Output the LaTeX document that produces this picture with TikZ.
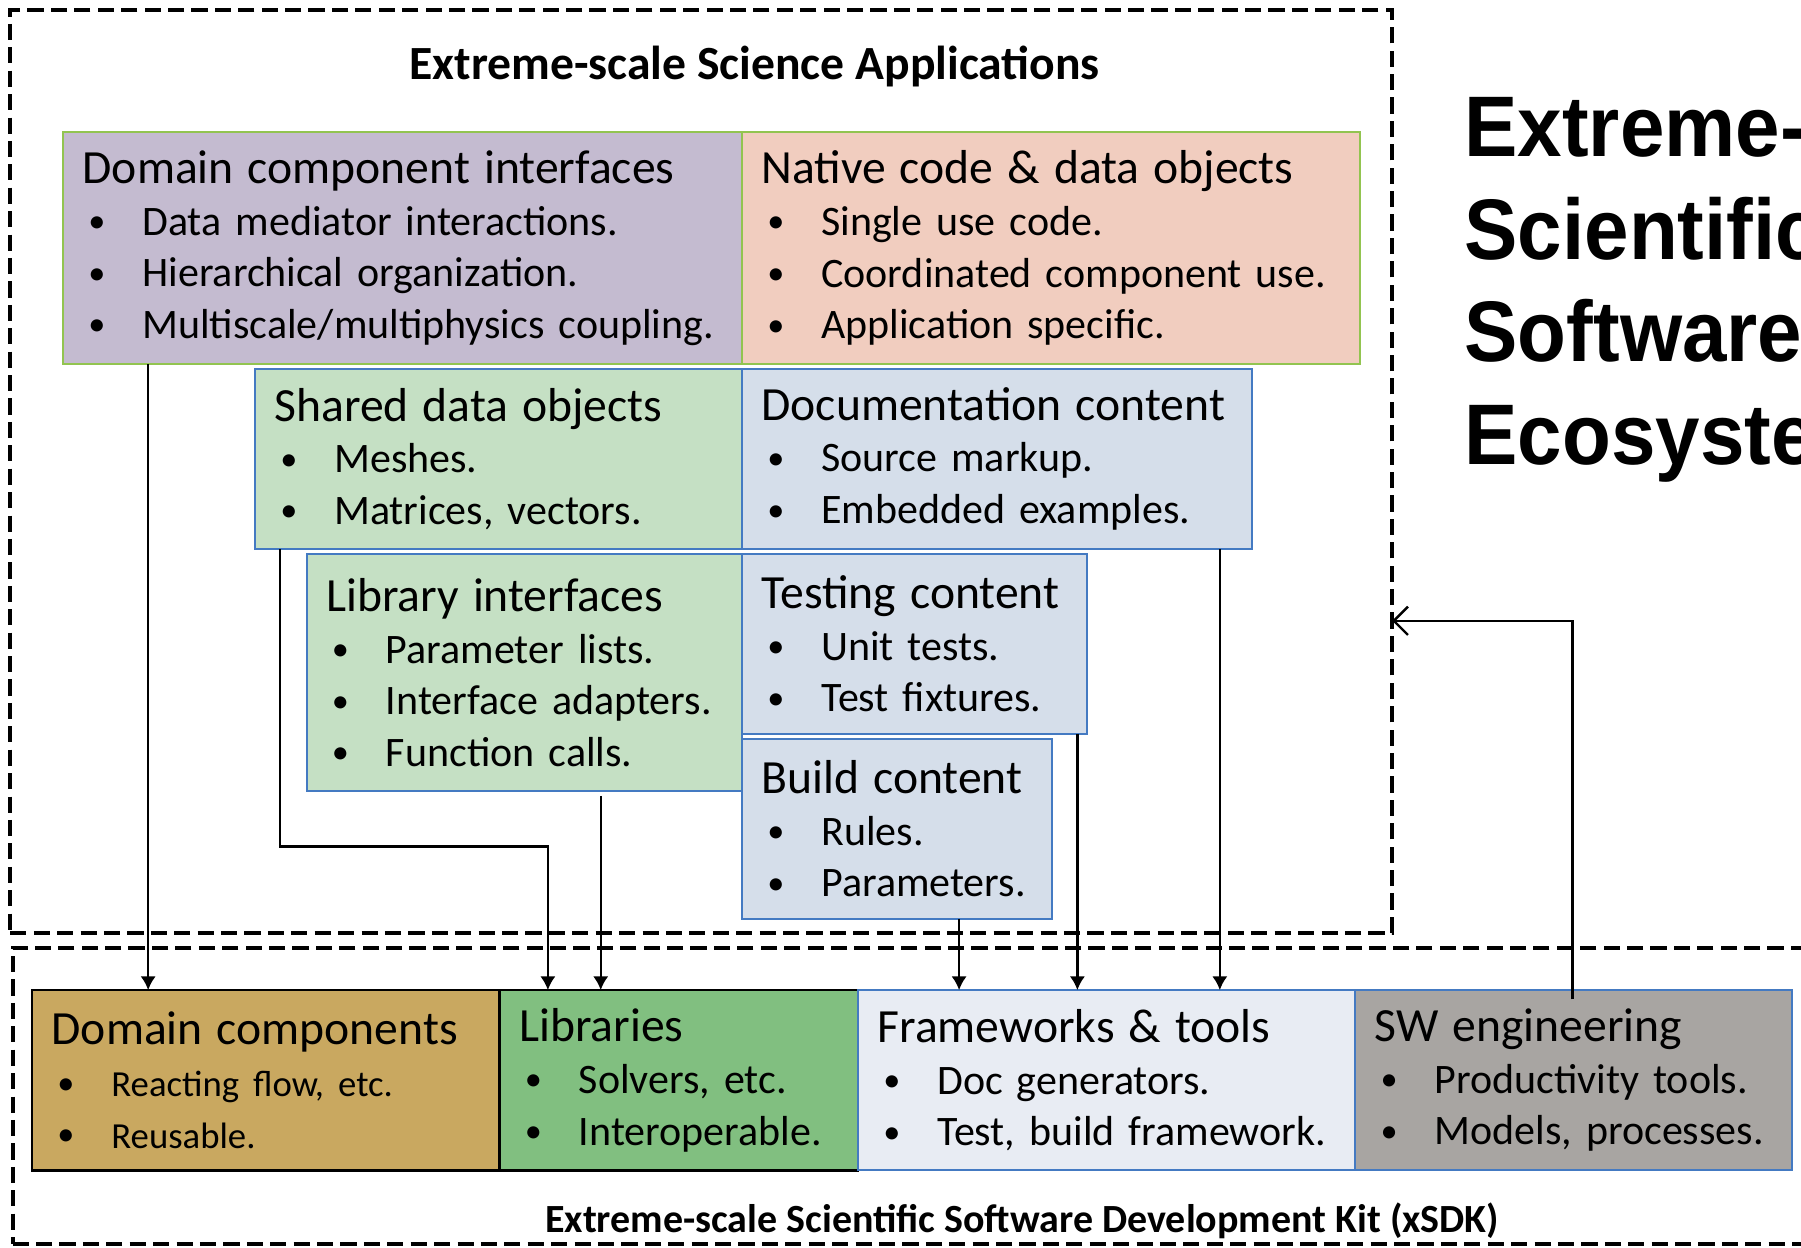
\documentclass[tikz,border=0pt]{standalone}
\usepackage{fontspec}
\setmainfont{Carlito}
\newfontfamily\ecofont[FakeStretch=0.93]{Liberation Sans}
\usetikzlibrary{positioning, arrows.meta}

\definecolor{dcibg}{RGB}{196,187,208}
\definecolor{ncdbg}{RGB}{241,205,191}
\definecolor{libbg}{RGB}{197,224,196}
\definecolor{docbg}{RGB}{213,222,234}
\definecolor{dcbg}{RGB}{201,168,96}
\definecolor{lbsbg}{RGB}{129,191,128}
\definecolor{fwtbg}{RGB}{232,236,243}
\definecolor{swebg}{RGB}{168,165,162}
\definecolor{edgegreen}{RGB}{146,196,80}
\definecolor{edgeblue}{RGB}{68,122,194}

\newcommand{\bhead}[1]{{\fontsize{11.8}{12.8}\selectfont\mbox{#1}}}
\newcommand{\bitem}[1]{\makebox[0.52cm][l]{\hspace{0.05cm}\raisebox{0.6pt}{\fontsize{8.5}{8.5}\selectfont\textbullet}}\mbox{#1}}

\tikzset{
  box/.style={draw, rectangle, anchor=north west, align=left,
    inner xsep=0.17cm, inner ysep=0pt, outer sep=0pt, line width=0.5pt,
    font=\fontsize{10.4}{12.8}\selectfont},
  greenbox/.style={box, draw=edgegreen},
  bluebox/.style={box, draw=edgeblue},
  blackbox/.style={box, draw=black, line width=0.6pt},
  dashbox/.style={draw, dash pattern=on 4pt off 1.8pt, line width=1pt,
    anchor=north west, inner sep=0pt, outer sep=0pt},
  -{Latex[length=3.4pt,width=3.8pt]}, auto
}

\begin{document}
\begin{tikzpicture}[semithick]
  \useasboundingbox (0,0) rectangle (15.68,-10.86);
  \clip (0,0) rectangle (15.68,-10.86);

  % the two groups
  \node[dashbox, minimum width=12.03cm, minimum height=8.03cm] (app) at (0.09,-0.09) {};
  \node[font=\bfseries\fontsize{11.8}{14}\selectfont] (apptitle) at (6.57,-0.58) {Extreme-scale Science Applications};
  \node[dashbox, minimum width=16cm, minimum height=2.58cm] (xsdk) at (0.11,-8.25) {};
  \node[font=\bfseries\fontsize{9.9}{12}\selectfont] (xsdktitle) at (8.90,-10.63) {Extreme-scale Scientific Software Development Kit (xSDK)};

  \node[anchor=north west, inner sep=0pt, align=left,
        font=\ecofont\bfseries\fontsize{21.3}{25.4}\selectfont] (eco) at (12.74,-0.81)
        {Extreme-scale\\Scientific\\Software\\Ecosystem};

  % application side
  \node[greenbox, fill=dcibg, text width=5.57cm, minimum height=2.02cm] (dci) at (0.55,-1.15)
    {\bhead{Domain component interfaces}\\
     \bitem{Data mediator interactions.}\\
     \bitem{Hierarchical organization.}\\
     \bitem{Multiscale/multiphysics coupling.}};
  \node[greenbox, fill=ncdbg, text width=5.04cm, minimum height=2.02cm, right=0pt of dci] (ncd)
    {\bhead{Native code \& data objects}\\
     \bitem{Single use code.}\\
     \bitem{Coordinated component use.}\\
     \bitem{Application specific.}};
  \node[bluebox, fill=libbg, text width=3.90cm, minimum height=1.57cm] (sdo) at (2.22,-3.21)
    {\bhead{Shared data objects}\\
     \bitem{Meshes.}\\
     \bitem{Matrices, vectors.}};
  \node[bluebox, fill=docbg, text width=4.10cm, minimum height=1.57cm, right=0pt of sdo] (doc)
    {\bhead{Documentation content}\\
     \bitem{Source markup.}\\
     \bitem{Embedded examples.}};
  \node[bluebox, fill=libbg, text width=3.45cm, minimum height=2.07cm] (lib) at (2.67,-4.82)
    {\bhead{Library interfaces}\\
     \bitem{Parameter lists.}\\
     \bitem{Interface adapters.}\\
     \bitem{Function calls.}};
  \node[bluebox, fill=docbg, text width=2.66cm, minimum height=1.57cm,
        below right=0pt and 0pt of lib.north east] (tst)
    {\bhead{Testing content}\\
     \bitem{Unit tests.}\\
     \bitem{Test fixtures.}};
  \node[bluebox, fill=docbg, text width=2.36cm, minimum height=1.57cm,
        below right=0.04cm and 0pt of tst.south west] (bld)
    {\bhead{Build content}\\
     \bitem{Rules.}\\
     \bitem{Parameters.}};

  % xSDK side
  \node[blackbox, fill=dcbg, text width=3.73cm, minimum height=1.57cm] (dc) at (0.28,-8.62)
    {\bhead{Domain components}\\
     \bitem{\fontsize{9.1}{12.8}\selectfont Reacting flow, etc.}\\
     \bitem{\fontsize{9.1}{12.8}\selectfont Reusable.}};
  \node[blackbox, fill=lbsbg, text width=2.78cm, minimum height=1.57cm, right=0pt of dc] (lbs)
    {\bhead{Libraries}\\
     \bitem{Solvers, etc.}\\
     \bitem{Interoperable.}};
  \node[bluebox, fill=fwtbg, text width=3.99cm, minimum height=1.57cm, right=0pt of lbs] (fwt)
    {\bhead{Frameworks \& tools}\\
     \bitem{Doc generators.}\\
     \bitem{Test, build framework.}};
  \node[bluebox, fill=swebg, text width=3.46cm, minimum height=1.57cm, right=0pt of fwt] (swe)
    {\bhead{SW engineering}\\
     \bitem{Productivity tools.}\\
     \bitem{Models, processes.}};

  \coordinate (a1) at ([xshift=0.74cm]dci.south west);
  \coordinate (a2) at ([xshift=0.22cm]sdo.south west);
  \coordinate (a2end) at ([xshift=0.42cm]lbs.north west);
  \coordinate (a3) at ([xshift=2.56cm,yshift=-0.04cm]lib.south west);
  \coordinate (a4) at ([xshift=1.89cm]bld.south west);
  \coordinate (a5) at ([xshift=2.92cm]tst.south west);
  \coordinate (a6) at ([xshift=4.16cm]doc.south west);
  \coordinate (a7) at ([xshift=1.89cm,yshift=-0.08cm]swe.north west);

  \draw (a1) -- (a1 |- dc.north);
  \draw (a2) -- ++(0,-2.59) -| (a2end);
  \draw (a3) -- (a3 |- lbs.north);
  \draw (a4) -- (a4 |- fwt.north);
  \draw (a5) -- (a5 |- fwt.north);
  \draw (a6) -- (a6 |- fwt.north);
  \draw[-{Straight Barb[length=3.5pt,width=7pt]}] (a7) |- ([yshift=-1.30cm]app.east);
\end{tikzpicture}
\end{document}
